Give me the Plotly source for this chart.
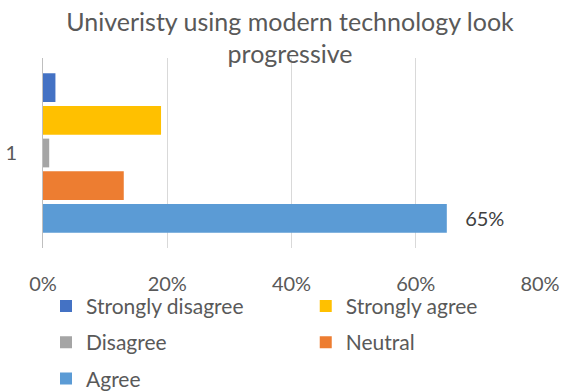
import plotly.graph_objects as go

categories = ["1"]
series_names = ["Agree", "Neutral", "Disagree", "Strongly agree", "Strongly disagree"]
series_values = [0.65, 0.13, 0.01, 0.19, 0.02]
series_colors = ["#5B9BD5", "#ED7D31", "#A5A5A5", "#FFC000", "#4472C4"]
legend_slot = ["legend", "legend2", "legend", "legend2", "legend"]
legend_rank = [3, 2, 2, 1, 1]
label_series = "Agree"
label_text = "65%"
x_ticks = [0, 0.2, 0.4, 0.6, 0.8]
x_ticktext = ["0%", "20%", "40%", "60%", "80%"]

FONT = "Lato"
GREY = "#595959"
FS = 20
PAD = "\u00a0\u00a0\u00a0"

fig = go.Figure()
for name, val, col, lg, rk in zip(series_names, series_values, series_colors, legend_slot, legend_rank):
    txt = [PAD + label_text] if name == label_series else None
    fig.add_trace(go.Bar(
        y=categories, x=[val], name=name, orientation="h",
        marker=dict(color=col, line=dict(width=0)),
        text=txt, textposition="outside" if txt else "none",
        textangle=0, cliponaxis=False,
        outsidetextfont=dict(family=FONT, size=FS, color="#404040"),
        legend=lg, legendrank=rk, legendgroup=name,
        hoverinfo="skip",
    ))

fig.update_layout(
    width=561, height=392,
    margin=dict(l=43, r=21, t=58, b=144, autoexpand=False),
    paper_bgcolor="white", plot_bgcolor="white",
    barmode="group", bargap=0.14, bargroupgap=0.12,
    font=dict(family=FONT, size=FS, color=GREY),
    title=dict(text="Univeristy using modern technology look<br>progressive",
               x=0.517, xanchor="center", yref="container", y=0.921, yanchor="top",
               font=dict(family=FONT, size=25, color=GREY)),
    showlegend=True,
    legend=dict(orientation="v", xref="container", x=0.082, xanchor="left",
                yref="container", y=0.271, yanchor="top",
                traceorder="grouped", tracegroupgap=6, bgcolor="rgba(0,0,0,0)",
                font=dict(family=FONT, size=21, color=GREY)),
    legend2=dict(orientation="v", xref="container", x=0.545, xanchor="left",
                 yref="container", y=0.271, yanchor="top",
                 traceorder="grouped", tracegroupgap=6, bgcolor="rgba(0,0,0,0)",
                 font=dict(family=FONT, size=21, color=GREY)),
)
fig.update_xaxes(range=[0, 0.8], tickvals=x_ticks, ticktext=x_ticktext,
                 showgrid=True, gridcolor="#D9D9D9", gridwidth=1,
                 zeroline=False, showline=False, ticks="", automargin=False,
                 ticklabelstandoff=22, tickfont=dict(family=FONT, size=FS, color=GREY))
fig.update_yaxes(type="category", range=[-0.5, 0.5], autorange=False,
                 showline=True, linecolor="#BFBFBF", linewidth=1,
                 ticks="", ticklabelstandoff=21, automargin=False,
                 tickfont=dict(family=FONT, size=FS, color=GREY))

fig.write_html("out.html", config={"displayModeBar": False},
               post_script="document.body.style.margin='0';document.body.style.padding='0';")
